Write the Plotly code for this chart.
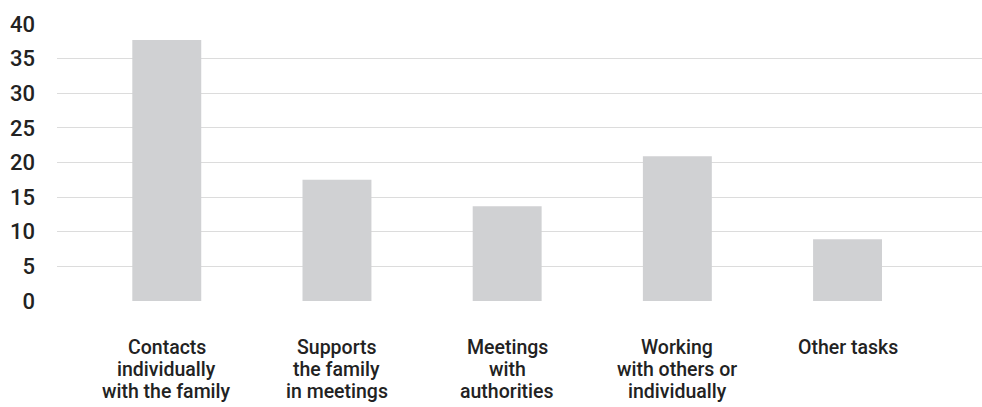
import plotly.graph_objects as go

# Share of time by task category
categories = [
    "Contacts<br>individually<br>with the family",
    "Supports<br>the family<br>in meetings",
    "Meetings<br>with<br>authorities",
    "Working<br>with others or<br>individually",
    "Other tasks",
]
values = [37.7, 17.5, 13.7, 20.9, 8.9]
y_ticks = [0, 5, 10, 15, 20, 25, 30, 35, 40]

font_family = "Roboto, Inter, sans-serif"
text_color = "#222222"

positions = list(range(len(categories)))

fig = go.Figure(
    go.Bar(
        x=positions,
        y=values,
        marker=dict(color="#d0d1d3", line=dict(width=0)),
        width=0.405,
        hoverinfo="skip",
    )
)

# Category labels: one annotation per line so the line spacing stays tight
line_gap = 22
first_line_offset = -46
annotations = []
for pos, label in zip(positions, categories):
    for i, line in enumerate(label.split("<br>")):
        annotations.append(
            dict(
                x=pos,
                xref="x",
                y=0,
                yref="paper",
                yanchor="middle",
                xanchor="center",
                yshift=first_line_offset - i * line_gap,
                text=line,
                showarrow=False,
                borderpad=0,
                font=dict(family=font_family, size=19.5, color=text_color, weight=500),
            )
        )

fig.update_layout(
    width=982,
    height=407,
    margin=dict(l=57, r=0, t=24, b=106),
    paper_bgcolor="white",
    plot_bgcolor="white",
    showlegend=False,
    font=dict(family=font_family, color=text_color, size=19),
    annotations=annotations,
)

fig.update_xaxes(
    tickmode="array",
    tickvals=positions,
    showticklabels=False,
    range=[-0.645, 4.79],
    showgrid=False,
    zeroline=False,
    showline=False,
    ticks="",
)

fig.update_yaxes(
    range=[0, 40],
    tickmode="array",
    tickvals=y_ticks,
    showgrid=True,
    gridcolor="#dcdcdc",
    gridwidth=1.3,
    zeroline=False,
    showline=False,
    ticks="",
    ticklabelstandoff=21,
    tickfont=dict(family=font_family, size=22, color=text_color, weight=500),
)

fig.write_html("out.html")
